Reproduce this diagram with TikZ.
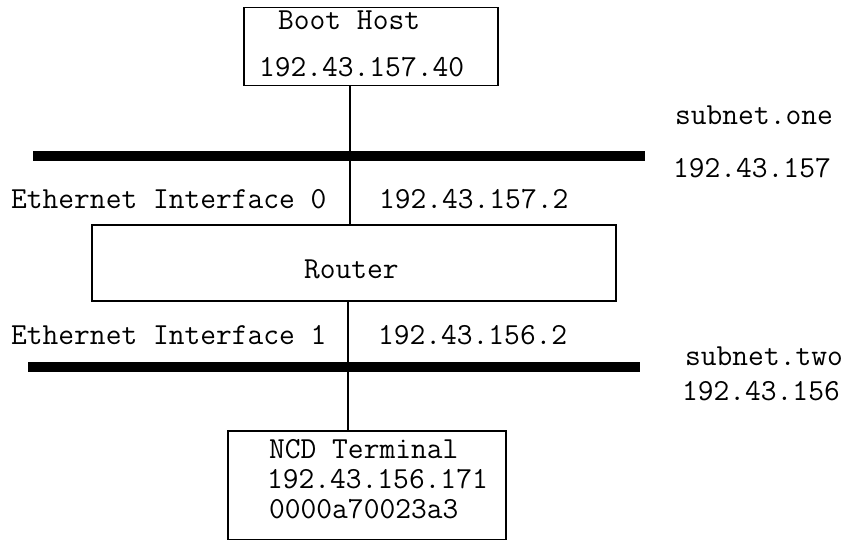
\documentclass[tikz,border=0pt]{standalone}
\usepackage{fontspec}
\tikzset{
  netbox/.style={draw, line width=1.5pt, anchor=north west, inner sep=0pt},
  lbl/.style={anchor=base west, inner sep=0pt, font=\ttfamily\fontsize{30.6}{34}\selectfont},
  wire/.style={line width=1.5pt},
  subnet/.style={line width=10pt},
}
\begin{document}
\begin{tikzpicture}[x=1pt,y=-1pt]
\useasboundingbox (0,0) rectangle (848,540);
% boxes
\node (boothost) [netbox, minimum width=254pt, minimum height=78pt] at (243,7) {};
\node (router) [netbox, minimum width=524pt, minimum height=76pt] at (91,224) {};
\node (ncd) [netbox, minimum width=278pt, minimum height=109pt] at (227,430) {};
% networks
\coordinate (onewest) at (33,156);
\coordinate (oneeast) at (645,156);
\coordinate (twowest) at (28,367);
\coordinate (twoeast) at (640,367);
\draw[subnet] (onewest) -- (oneeast);
\draw[subnet] (twowest) -- (twoeast);
% taps
\coordinate (tapone) at (350,156);
\coordinate (taptwo) at (348,367);
\draw[wire] (boothost.south -| tapone) -- (router.north -| tapone);
\draw[wire] (router.south -| taptwo) -- (ncd.north -| taptwo);
% texts
\node (hostname) [lbl] at (278,30) {Boot Host};
\node (hostaddr) [lbl] at (259,76.5) {192.43.157.40};
\node (onename) [lbl] at (675,125) {subnet.one};
\node (oneaddr) [lbl] at (673,178) {192.43.157};
\node (ifzero) [lbl] at (11,208.5) {Ethernet Interface 0};
\node (ifzeroaddr) [lbl] at (379,208.5) {192.43.157.2};
\node (routername) [lbl] at (304,278) {Router};
\node (ifone) [lbl] at (11,344) {Ethernet Interface 1};
\node (ifoneaddr) [lbl] at (378,344) {192.43.156.2};
\node (twoname) [lbl] at (685,365) {subnet.two};
\node (twoaddr) [lbl] at (682,400) {192.43.156};
\node (ncdname) [lbl] at (269,458) {NCD Terminal};
\node (ncdaddr) [lbl] at (267,488) {192.43.156.171};
\node (ncdether) [lbl] at (269,518) {0000a70023a3};
\end{tikzpicture}
\end{document}
